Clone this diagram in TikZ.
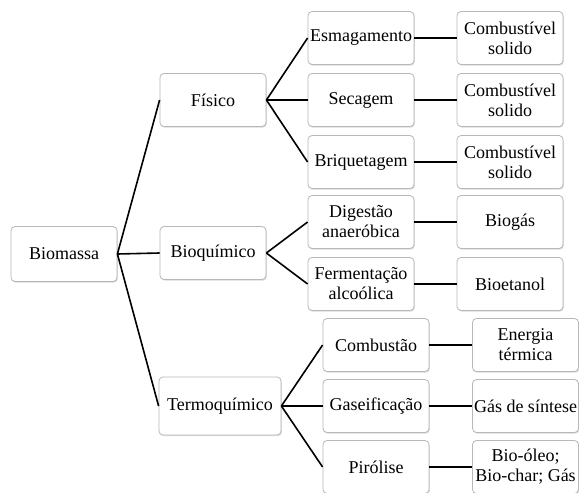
\documentclass[tikz,border=0pt]{standalone}
\usepackage{fontspec}
\setmainfont{Liberation Serif}
\usetikzlibrary{shadows}
\begin{document}
\begin{tikzpicture}[x=1pt,y=-1pt,
  box/.style={draw=black!28, line width=0.8pt, rounded corners=4pt, fill=white,
    align=center, font=\fontsize{18}{20}\selectfont, inner sep=0pt,
    minimum width=106pt, minimum height=53pt,
    drop shadow={shadow xshift=0.8pt, shadow yshift=-1.2pt, opacity=0.35, fill=black!40}},
  wide/.style={minimum width=122pt, minimum height=58pt},
  con/.style={line width=1.6pt, black}]
\useasboundingbox (0,0) rectangle (579,493);
\fill[white] (0,0) rectangle (579,493);
% level 0
\node[box, minimum height=55pt] (bio) at (64,254) {Biomassa};
% level 1
\node[box] (fis) at (213,100) {Físico};
\node[box] (bq) at (213,253) {Bioquímico};
\node[box, wide] (tq) at (220,406) {Termoquímico};
% level 2
\node[box] (esm) at (361,38) {Esmagamento};
\node[box] (sec) at (361,100) {Secagem};
\node[box] (briq) at (361,162) {Briquetagem};
\node[box] (dig) at (361,222) {Digestão\\anaeróbica};
\node[box] (fer) at (361,284) {Fermentação\\alcoólica};
\node[box] (comb) at (376,345) {Combustão};
\node[box] (gas) at (376,406) {Gaseificação};
\node[box] (pir) at (376,467) {Pirólise};
% level 3
\node[box] (r1) at (510,38) {Combustível\\solido};
\node[box] (r2) at (510,100) {Combustível\\solido};
\node[box] (r3) at (510,162) {Combustível\\solido};
\node[box] (r4) at (510,222) {Biogás};
\node[box] (r5) at (510,284) {Bioetanol};
\node[box] (r6) at (525.5,345) {Energia\\térmica};
\node[box] (r7) at (525.5,406) {Gás de síntese};
\node[box] (r8) at (525.5,467) {Bio-óleo;\\Bio-char; Gás};
% connectors
\draw[con] (bio.east) -- (fis.west);
\draw[con] (bio.east) -- (bq.west);
\draw[con] (bio.east) -- (tq.west);
\draw[con] (fis.east) -- (esm.west);
\draw[con] (fis.east) -- (sec.west);
\draw[con] (fis.east) -- (briq.west);
\draw[con] (bq.east) -- (dig.west);
\draw[con] (bq.east) -- (fer.west);
\draw[con] (tq.east) -- (comb.west);
\draw[con] (tq.east) -- (gas.west);
\draw[con] (tq.east) -- (pir.west);
\draw[con] (esm) -- (r1);
\draw[con] (sec) -- (r2);
\draw[con] (briq) -- (r3);
\draw[con] (dig) -- (r4);
\draw[con] (fer) -- (r5);
\draw[con] (comb) -- (r6);
\draw[con] (gas) -- (r7);
\draw[con] (pir) -- (r8);
\end{tikzpicture}
\end{document}
